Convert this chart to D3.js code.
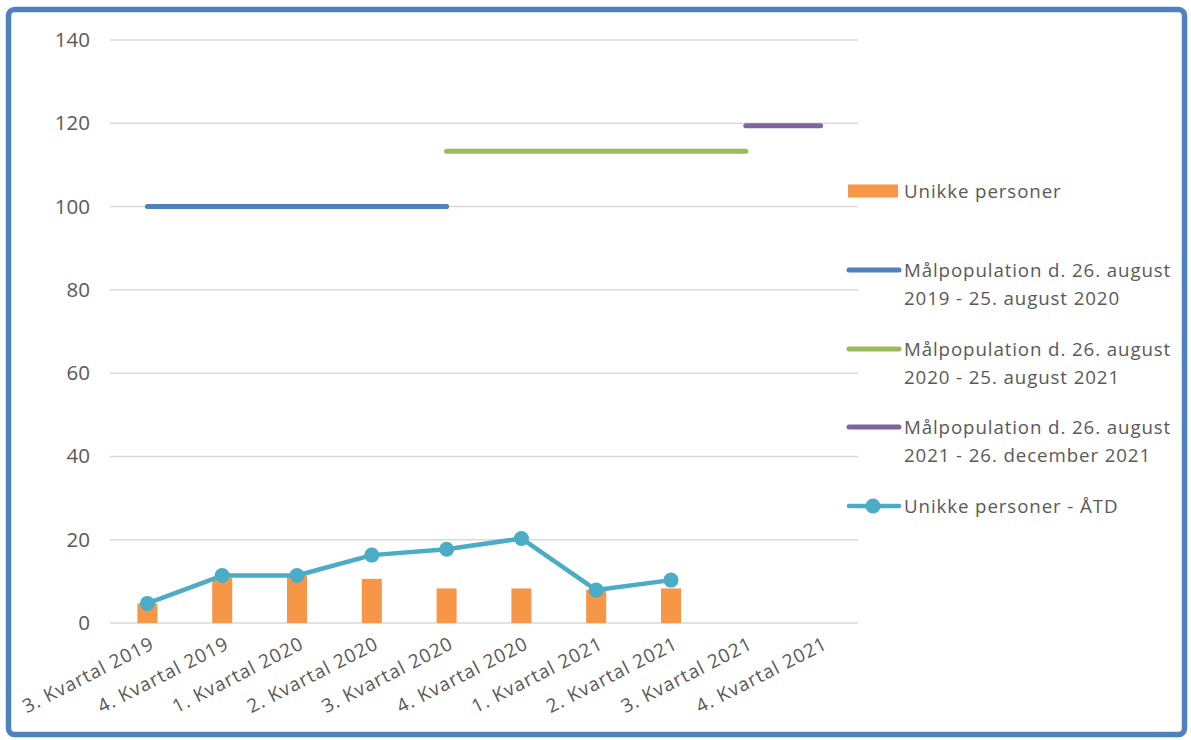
<!DOCTYPE html>
<html><head><meta charset="utf-8">
<script src="https://cdn.jsdelivr.net/npm/d3@7"></script>
<style>
body{margin:0;background:#fff;}
text{font-family:"Open Sans", sans-serif;fill:#595959;}
</style></head>
<body><svg id="c" width="1191" height="740"></svg>
<script>
const categories = ["3. Kvartal 2019","4. Kvartal 2019","1. Kvartal 2020","2. Kvartal 2020","3. Kvartal 2020","4. Kvartal 2020","1. Kvartal 2021","2. Kvartal 2021","3. Kvartal 2021","4. Kvartal 2021"];
const barValues = [4.7, 10.8, 11.4, 10.6, 8.3, 8.3, 8.0, 8.3, null, null];
const lineValues = [4.7, 11.4, 11.4, 16.3, 17.7, 20.3, 7.9, 10.3, null, null];
const target1 = [100, 100, 100, 100, 100, null, null, null, null, null];
const target2 = [null, null, null, null, 113.3, 113.3, 113.3, 113.3, 113.3, null];
const target3 = [null, null, null, null, null, null, null, null, 119.4, 119.4];
const yTicks = [0, 20, 40, 60, 80, 100, 120, 140];
const legendLabels = [
  ["Unikke personer"],
  ["Målpopulation d. 26. august", "2019 - 25. august 2020"],
  ["Målpopulation d. 26. august", "2020 - 25. august 2021"],
  ["Målpopulation d. 26. august", "2021 - 26. december 2021"],
  ["Unikke personer - ÅTD"]
];
const colors = {bar:"#F79646", t1:"#4F81BD", t2:"#9BBB59", t3:"#8064A2", line:"#4BACC6"};

const svg = d3.select("#c");
// border
svg.append("rect").attr("x",8.5).attr("y",9.5).attr("width",1176).attr("height",725).attr("rx",6)
  .attr("fill","none").attr("stroke","#4F81BD").attr("stroke-width",5.5);

const x = d3.scaleBand().domain(categories).range([110, 858]);
const y = d3.scaleLinear().domain([0, 140]).range([623, 40]);

// gridlines
svg.append("g").selectAll("line").data(yTicks).join("line")
  .attr("x1",110).attr("x2",858).attr("y1",d=>y(d)).attr("y2",d=>y(d))
  .attr("stroke","#d9d9d9").attr("stroke-width",1.5);

// y axis labels
const yAxis = d3.axisLeft(y).tickValues(yTicks).tickSize(0).tickPadding(20);
const ya = svg.append("g").attr("transform","translate(110,0)").call(yAxis);
ya.select(".domain").remove();
ya.selectAll("text").attr("font-size",20.5).attr("fill","#595959").style("font-family","'Open Sans', sans-serif");

// x axis labels
const xAxis = d3.axisBottom(x).tickSize(0).tickPadding(0);
const xa = svg.append("g").attr("transform","translate(0,623)").call(xAxis);
xa.select(".domain").remove();
xa.selectAll("text").attr("font-size",19).attr("fill","#595959").style("font-family","'Open Sans', sans-serif")
  .style("letter-spacing","0.9px")
  .attr("text-anchor","end").attr("dy",0)
  .attr("transform","translate(8,25) rotate(-27)");

// bars
const bw = 20;
svg.append("g").selectAll("rect").data(categories.map((c,i)=>({c,v:barValues[i]})).filter(d=>d.v!=null))
  .join("rect").attr("x",d=>x(d.c)+x.bandwidth()/2-bw/2).attr("width",bw)
  .attr("y",d=>y(d.v)).attr("height",d=>y(0)-y(d.v)).attr("fill",colors.bar);

function drawLine(vals, color, w){
  const line = d3.line().defined(d=>d.v!=null).x(d=>x(d.c)+x.bandwidth()/2).y(d=>y(d.v));
  svg.append("path").datum(categories.map((c,i)=>({c,v:vals[i]})))
    .attr("d",line).attr("fill","none").attr("stroke",color).attr("stroke-width",w)
    .attr("stroke-linecap","round").attr("stroke-linejoin","round");
}
drawLine(target1, colors.t1, 5);
drawLine(target2, colors.t2, 5);
drawLine(target3, colors.t3, 5);
drawLine(lineValues, colors.line, 4.5);
svg.append("g").selectAll("circle").data(categories.map((c,i)=>({c,v:lineValues[i]})).filter(d=>d.v!=null))
  .join("circle").attr("cx",d=>x(d.c)+x.bandwidth()/2).attr("cy",d=>y(d.v)).attr("r",7.5).attr("fill",colors.line);

// legend
const lg = svg.append("g");
const legY = [191, 270, 349, 427, 506];
const legKeys = ["bar","t1","t2","t3","line"];
legendLabels.forEach((lines,i)=>{
  const cy = legY[i], k = legKeys[i];
  if(k==="bar"){
    lg.append("rect").attr("x",848).attr("y",cy-6.5).attr("width",50).attr("height",13).attr("fill",colors.bar);
  } else {
    lg.append("line").attr("x1",849).attr("x2",899).attr("y1",cy).attr("y2",cy)
      .attr("stroke",colors[k]).attr("stroke-width",k==="line"?4.5:5).attr("stroke-linecap","round");
    if(k==="line") lg.append("circle").attr("cx",873).attr("cy",cy).attr("r",7.5).attr("fill",colors.line);
  }
  lines.forEach((t,j)=>{
    lg.append("text").attr("x",904).attr("y",cy+7+j*28).attr("font-size",18.7)
      .style("letter-spacing","0.9px").text(t);
  });
});
</script></body></html>
